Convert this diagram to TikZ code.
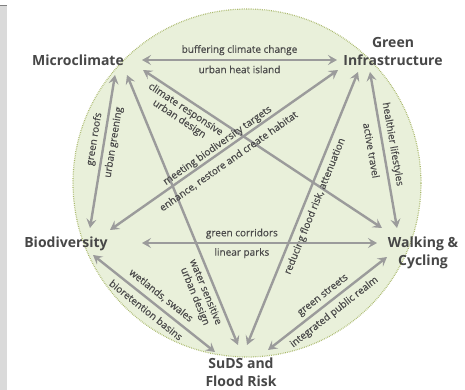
\documentclass[tikz,border=0pt]{standalone}
\usepackage{fontspec}
\setmainfont{Open Sans}
\newfontfamily\lblfont[FakeBold=0.35]{Open Sans}
\usetikzlibrary{arrows.meta}
\definecolor{fillgreen}{HTML}{E9F0DA}
\definecolor{edgegreen}{HTML}{A9B86A}
\definecolor{arrowgray}{HTML}{9B9B9B}
\definecolor{titlegray}{HTML}{474747}
\definecolor{labelgray}{HTML}{4A4A4A}
\definecolor{stripgray}{HTML}{DADADA}
\begin{document}
\begin{tikzpicture}[x=1pt,y=-1pt,
 title/.style={font=\bfseries\fontsize{14}{18}\selectfont, text=titlegray, align=center, inner sep=0pt},
 link/.style={draw=arrowgray, line width=2.4pt, {Stealth[length=9pt,width=10pt,inset=3.5pt]}-{Stealth[length=9pt,width=10pt,inset=3.5pt]}},
 lbl/.style={font=\lblfont\fontsize{10}{12}\selectfont, text=labelgray, inner sep=0pt, text height=7.5pt, text depth=2.5pt, sloped}]
\useasboundingbox (0,0) rectangle (465,390);
\fill[white] (0,0) rectangle (465,390);
\fill[stripgray] (0,6) rectangle (7,390);
\draw[gray, line width=1pt] (0,6) -- (7,6);
\fill[fillgreen] (247,183) circle (174pt);
\draw[edgegreen, line width=1.2pt, dash pattern=on 0.7pt off 1.1pt] (247,183) circle (174pt);

\node[title] (mc) at (78,60) {Microclimate};
\node[title] (gi) at (393,52) {Green\\Infrastructure};
\node[title] (bio) at (66,244) {Biodiversity};
\node[title] (wc) at (423,253) {Walking \&\\Cycling};
\node[title] (suds) at (241,372) {SuDS and\\Flood Risk};

\coordinate (mcE) at (142,60);
\coordinate (mcSE) at (143,70);
\coordinate (mcS1) at (115,75);
\coordinate (mcS2) at (127,75);
\coordinate (giW) at (337,60);
\coordinate (giSW) at (338,70);
\coordinate (giS1) at (358,72);
\coordinate (giS2) at (370,72);
\coordinate (bioN) at (90,228);
\coordinate (bioNE) at (110,230);
\coordinate (bioE) at (142,243);
\coordinate (bioSE) at (93,255);
\coordinate (wcNW) at (382,228);
\coordinate (wcN) at (397,228);
\coordinate (wcW) at (377,243);
\coordinate (wcSW) at (387,257);
\coordinate (sudsNW) at (215,352);
\coordinate (sudsN1) at (238,345);
\coordinate (sudsN2) at (247,345);
\coordinate (sudsNE) at (268,350);

\draw[link] (mcE) -- (giW)
  node[lbl,pos=0.5,above=3.5pt] {buffering climate change}
  node[lbl,pos=0.5,below=4.5pt] {urban heat island};
\draw[link] (mcSE) -- (wcNW)
  node[lbl,pos=0.2,below=3.5pt] {climate responsive}
  node[lbl,pos=0.2,below=15pt] {urban design};
\draw[link] (mcS1) -- (bioN)
  node[lbl,pos=0.43,above=3.5pt] {green roofs}
  node[lbl,pos=0.43,below=3.5pt] {urban greening};
\draw[link] (mcS2) -- (sudsN1)
  node[lbl,pos=0.79,below=4pt] {water sensitive}
  node[lbl,pos=0.79,below=15.5pt] {urban design};
\draw[link] (giSW) -- (bioNE)
  node[lbl,pos=0.51,above=0.8pt] {meeting biodiversity targets}
  node[lbl,pos=0.51,below=6.5pt] {enhance, restore and create habitat};
\draw[link] (giS1) -- (sudsN2)
  node[lbl,pos=0.477,below=4.8pt] {reducing flood risk, attenuation};
\draw[link] (giS2) -- (wcN)
  node[lbl,pos=0.474,above=3.5pt] {healthier lifestyles}
  node[lbl,pos=0.49,below=7pt] {active travel};
\draw[link] (bioE) -- (wcW)
  node[lbl,pos=0.425,above=3pt] {green corridors}
  node[lbl,pos=0.425,below=4pt] {linear parks};
\draw[link] (bioSE) -- (sudsNW)
  node[lbl,pos=0.504,above=3.8pt] {wetlands, swales}
  node[lbl,pos=0.486,below=5pt] {bioretention basins};
\draw[link] (sudsNE) -- (wcSW)
  node[lbl,pos=0.51,above=3.1pt] {green streets}
  node[lbl,pos=0.5,below=5pt] {integrated public realm};
\end{tikzpicture}
\end{document}
